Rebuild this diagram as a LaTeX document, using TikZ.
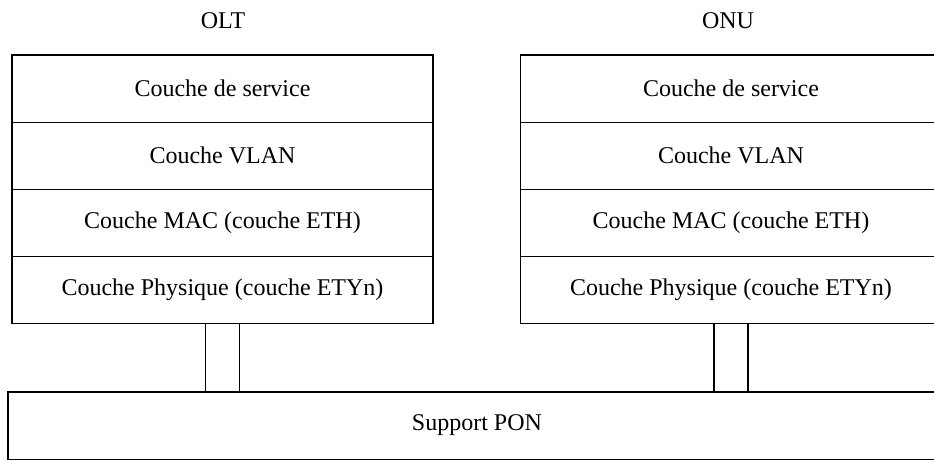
\documentclass[tikz,border=0pt]{standalone}
\usepackage{fontspec}
\setmainfont{Liberation Serif}
\usetikzlibrary{positioning}

\begin{document}
\begin{tikzpicture}[x=0.5pt,y=-0.5pt,node distance=0pt,line width=0.6pt,
	every node/.style={font=\fontsize{12}{14}\selectfont},
	layer/.style={draw,minimum width=210.5pt,minimum height=33.6pt,inner sep=0pt,outer sep=0pt}]

\useasboundingbox (0,0) rectangle (934,461);
\clip (0,0) rectangle (934,461);

% OLT stack
\node (olt)  at (223,21)	{OLT};
\node[layer] (olt1) at (222.5,88.5)	{Couche de service};
	\node[layer] (olt2) [below=of olt1]	{Couche VLAN};
	\node[layer] (olt3) [below=of olt2]	{Couche MAC (couche ETH)};
	\node[layer] (olt4) [below=of olt3]	{Couche Physique (couche ETYn)};

% ONU stack
\node (onu)  at (728,21)	{ONU};
\node[layer] (onu1) at (731,88.5)	{Couche de service};
	\node[layer] (onu2) [below=of onu1]	{Couche VLAN};
	\node[layer] (onu3) [below=of onu2]	{Couche MAC (couche ETH)};
	\node[layer] (onu4) [below=of onu3]	{Couche Physique (couche ETYn)};

\node[layer,minimum width=469pt] (pon) at (477,425.5)	{Support PON};

% liaisons
\foreach \s in {-8.5pt,8.5pt}{
	\draw ([xshift=\s]olt4.south) -- ([xshift=\s]olt4.south |- pon.north);
	\draw ([xshift=\s]onu4.south) -- ([xshift=\s]onu4.south |- pon.north);
}
\end{tikzpicture}
\end{document}
